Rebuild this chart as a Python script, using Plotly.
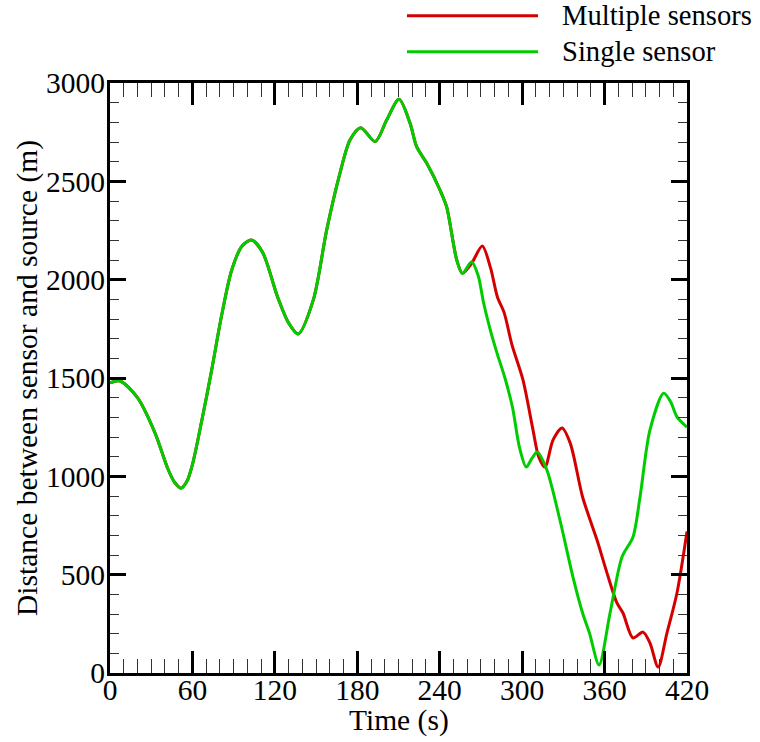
import plotly.graph_objects as go

# Shared portion (both curves coincide until ~257 s)
t_common = [0, 7.3, 20, 32.8, 42, 47, 51.7, 56, 60, 67, 74, 81.3, 88.6, 96, 103, 111, 122, 130, 137,
            148, 157.7, 167.4, 174.7, 182.5, 193, 201.4, 210.4, 218.4, 223.2, 230.5,
            240.2, 245, 252.4, 256.5]
d_common = [1475, 1485, 1400, 1220, 1040, 970, 940, 975, 1060, 1290, 1540, 1820, 2049, 2170, 2202, 2140, 1912,
            1780, 1724, 1897, 2252, 2542, 2710, 2773, 2702, 2812, 2917, 2796, 2676, 2593,
            2456, 2371, 2100, 2032]

t_multi_tail = [263, 271, 277, 282, 287, 292.6, 300.6, 307.9, 312, 316.6, 322.5, 329, 335, 344,
                354.5, 361.8, 369, 373.4, 380.7, 388, 393, 399, 405.4, 412.7, 420]
d_multi_tail = [2080, 2171, 2060, 1912, 1830, 1668, 1490, 1236, 1100, 1047, 1185, 1246, 1169, 895,
                676, 508, 356, 305, 178, 208, 153, 30, 203, 407, 720]

t_single_tail = [263.2, 268, 272, 276.6, 282, 287.5, 293, 298, 303, 307, 311, 318, 327.5, 337, 344,
                 349, 356, 364, 372.7, 380.7, 385.8, 393, 403, 408, 412.7, 420]
d_single_tail = [2091, 2020, 1880, 1750, 1620, 1500, 1350, 1149, 1047, 1090, 1124, 1032, 778, 488, 305,
                 203, 41, 305, 590, 692, 895, 1235, 1423, 1380, 1302, 1250]

x_ticks = [0, 60, 120, 180, 240, 300, 360, 420]
y_ticks = [0, 500, 1000, 1500, 2000, 2500, 3000]

RED = "#d40000"
GREEN = "#00cc00"
FONT = "Liberation Serif"
AXFS = 29.5

fig = go.Figure()
fig.add_trace(go.Scatter(x=t_common + t_multi_tail, y=d_common + d_multi_tail, mode="lines",
                         name="Multiple sensors", line=dict(color=RED, width=3, shape="spline", smoothing=0.8),
                         showlegend=False))
fig.add_trace(go.Scatter(x=t_common + t_single_tail, y=d_common + d_single_tail, mode="lines",
                         name="Single sensor", line=dict(color=GREEN, width=3, shape="spline", smoothing=0.8),
                         showlegend=False))

axis_common = dict(showgrid=False, zeroline=False, showline=True, linecolor="black", linewidth=3,
                   mirror="allticks", ticks="inside", tickcolor="black", tickwidth=2.5,
                   tickfont=dict(family=FONT, size=AXFS, color="black"))

fig.update_xaxes(range=[0, 420], tickvals=x_ticks, ticklen=22, ticklabelstandoff=-11,
                 minor=dict(dtick=10, tick0=0, ticks="inside", ticklen=14, tickwidth=1, tickcolor="#333"),
                 **axis_common)
fig.update_yaxes(range=[0, 3000], tickvals=y_ticks, ticklen=16, ticklabelstandoff=-4,
                 minor=dict(dtick=100, tick0=0, ticks="inside", ticklen=9, tickwidth=1, tickcolor="#333"),
                 title=dict(text="Distance between sensor and source (m)",
                            font=dict(family=FONT, size=AXFS, color="black"), standoff=0),
                 **axis_common)

# x-axis title placed as annotation for exact vertical position
fig.add_annotation(text="Time (s)", xref="paper", yref="paper", x=0.5, y=-0.0797,
                   xanchor="center", yanchor="middle", showarrow=False,
                   font=dict(family=FONT, size=AXFS, color="black"))

# Manual legend (long line samples like the reference)
legend_items = [("Multiple sensors", RED, 1.114), ("Single sensor", GREEN, 1.053)]
for label, color, yy in legend_items:
    fig.add_shape(type="line", xref="paper", yref="paper", x0=0.5147, x1=0.7418, y0=yy, y1=yy,
                  line=dict(color=color, width=3))
    fig.add_annotation(text=label, xref="paper", yref="paper", x=0.7800, y=yy, xanchor="left",
                       yanchor="middle", showarrow=False,
                       font=dict(family=FONT, size=28.6, color="black"))

fig.update_layout(width=760, height=742, margin=dict(l=110, r=73, t=83, b=69),
                  paper_bgcolor="white", plot_bgcolor="white", showlegend=False)

fig.write_html("out.html")
